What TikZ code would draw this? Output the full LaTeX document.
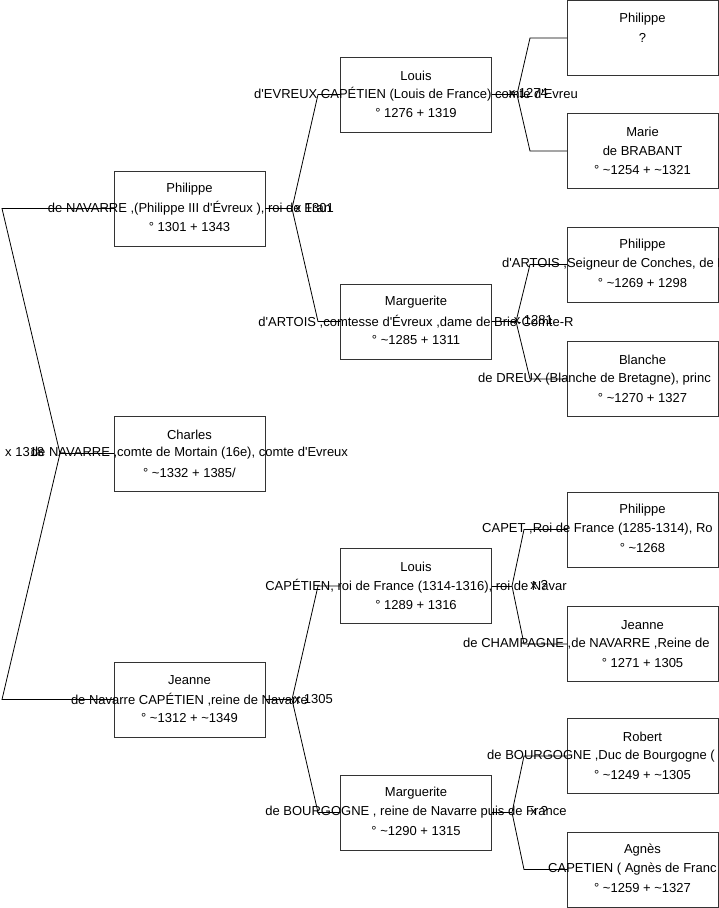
\documentclass[tikz,border=0pt]{standalone}
\usepackage{fontspec}
\newfontfamily\arialf{Liberation Sans}
\newcommand\apx{\textasciitilde}
\usetikzlibrary{calc}
\tikzset{
  box/.style={draw=black!80, line width=0.9pt, minimum width=151pt, minimum height=75pt, inner sep=0pt, outer sep=0pt},
  txt/.style={font=\arialf\fontsize{13}{15}\selectfont, inner sep=0pt, text=black},
  lnk/.style={draw=black, line width=0.8pt},
  mlab/.style={font=\arialf\fontsize{13}{15}\selectfont, inner sep=0pt, text=black}
}
\newcommand\person[6]{%
  \node[box] (#1) at (#2,#3) {};
  \node[txt] (#1-a) at ($(#1.center)+(0,-19)$) {#4};
  \node[txt] (#1-b) at (#1.center) {#5};
  \node[txt] (#1-c) at ($(#1.center)+(0,19)$) {#6};
}
\newcommand\personcut[7]{%
  \node[box] (#1) at (#2,#3) {};
  \node[txt] (#1-a) at ($(#1.center)+(0,-19)$) {#4};
  \node[txt, anchor=west] (#1-b) at (#7,#3) {#5};
  \node[txt] (#1-c) at ($(#1.center)+(0,19)$) {#6};
}
\begin{document}
\begin{tikzpicture}[x=1pt,y=-1pt]
\useasboundingbox (0,0) rectangle (719,908);
\fill[white] (0,0) rectangle (719,908);
% level 1
\person{p1}{189.5}{208.5}{Philippe}{de NAVARRE ,(Philippe III d'Évreux ), roi de Fran}{° 1301 + 1343}
\person{c1}{189.5}{453.5}{Charles}{de NAVARRE ,comte de Mortain (16e), comte d'Evreux}{° \apx1332 + 1385/}
\person{j1}{189.5}{699.5}{Jeanne}{de Navarre CAPÉTIEN ,reine de Navarre}{° \apx1312 + \apx1349}
% level 2
\person{l2}{416}{94.5}{Louis}{d'EVREUX CAPÉTIEN (Louis de France) comte d'Evreu}{° 1276 + 1319}
\person{ma}{416}{321.5}{Marguerite}{d'ARTOIS ,comtesse d'Évreux ,dame de Brie-Comte-R}{° \apx1285 + 1311}
\person{lb}{416}{586}{Louis}{CAPÉTIEN, roi de France (1314-1316), roi de Navar}{° 1289 + 1316}
\person{mb}{416}{812.5}{Marguerite}{de BOURGOGNE , reine de Navarre puis de France}{° \apx1290 + 1315}
% level 3
\person{ph}{642.5}{38}{Philippe}{?}{}
\person{mr}{642.5}{151}{Marie}{de BRABANT}{° \apx1254 + \apx1321}
\personcut{pa}{642.5}{264.5}{Philippe}{d'ARTOIS ,Seigneur de Conches, de Me}{° \apx1269 + 1298}{502}
\personcut{bl}{642.5}{379}{Blanche}{de DREUX (Blanche de Bretagne), princ}{° \apx1270 + 1327}{478}
\personcut{pc}{642.5}{529.5}{Philippe}{CAPET ,Roi de France (1285-1314), Ro}{° \apx1268}{482}
\personcut{jc}{642.5}{644}{Jeanne}{de CHAMPAGNE ,de NAVARRE ,Reine de}{° 1271 + 1305}{463}
\personcut{rb}{642.5}{756}{Robert}{de BOURGOGNE ,Duc de Bourgogne (}{° \apx1249 + \apx1305}{487}
\personcut{ag}{642.5}{869.5}{Agnès}{CAPETIEN ( Agnès de Franc}{° \apx1259 + \apx1327}{548}
% junction coordinates
\coordinate (k0) at (60,453.5);
\coordinate (k0a) at (2,208.5);
\coordinate (k0b) at (2,699.5);
\coordinate (k1) at (292,208.5);
\coordinate (k1a) at (318,94.5);
\coordinate (k1b) at (318,321.5);
\coordinate (k2) at (292,699.5);
\coordinate (k2a) at (318,586);
\coordinate (k2b) at (318,812.5);
\coordinate (k3) at (517,94.5);
\coordinate (k3a) at (530,38);
\coordinate (k3b) at (530,151);
\coordinate (k4) at (516,321.5);
\coordinate (k4a) at (530,264.5);
\coordinate (k4b) at (530,379);
\coordinate (k5) at (512,586);
\coordinate (k5a) at (524,529.5);
\coordinate (k5b) at (524,644);
\coordinate (k6) at (512,812.5);
\coordinate (k6a) at (524,756);
\coordinate (k6b) at (524,869.5);
% connectors
\draw[lnk] (c1.west) -- (k0);
\draw[lnk] (k0) -- (k0a) -- (p1.west);
\draw[lnk] (k0) -- (k0b) -- (j1.west);
\draw[lnk] (p1.east) -- (k1);
\draw[lnk] (k1) -- (k1a) -- (l2.west);
\draw[lnk] (k1) -- (k1b) -- (ma.west);
\draw[lnk] (j1.east) -- (k2);
\draw[lnk] (k2) -- (k2a) -- (lb.west);
\draw[lnk] (k2) -- (k2b) -- (mb.west);
\draw[lnk] (l2.east) -- (k3);
\draw[lnk] (k3) -- (k3a) -- (ph.west);
\draw[lnk] (k3) -- (k3b) -- (mr.west);
\draw[lnk] (ma.east) -- (k4);
\draw[lnk] (k4) -- (k4a) -- (pa.west);
\draw[lnk] (k4) -- (k4b) -- (bl.west);
\draw[lnk] (lb.east) -- (k5);
\draw[lnk] (k5) -- (k5a) -- (pc.west);
\draw[lnk] (k5) -- (k5b) -- (jc.west);
\draw[lnk] (mb.east) -- (k6);
\draw[lnk] (k6) -- (k6a) -- (rb.west);
\draw[lnk] (k6) -- (k6b) -- (ag.west);
% marriage labels
\node[mlab, anchor=west] (m0) at (5,452) {x 1318};
\node[mlab, anchor=east] (m1) at (334,208) {x 1301};
\node[mlab, anchor=east] (m2) at (333,699) {x 1305};
\node[mlab, anchor=east] (m3) at (548,93) {x 1274};
\node[mlab, anchor=east] (m4) at (553,320) {x 1281};
\node[mlab, anchor=east] (m5) at (548,585) {x ?};
\node[mlab, anchor=east] (m6) at (548,811) {x ?};
\end{tikzpicture}
\end{document}
